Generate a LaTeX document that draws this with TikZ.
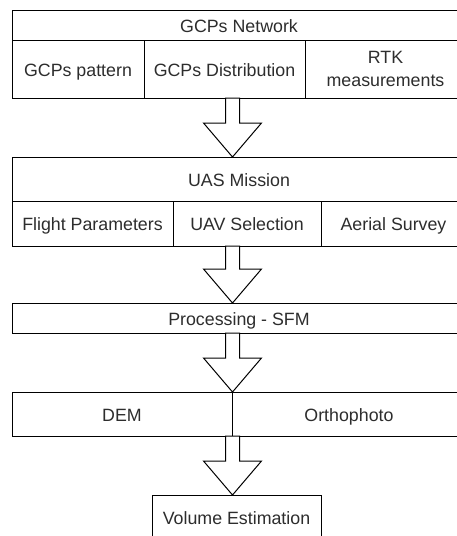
\documentclass[tikz,border=0pt]{standalone}
\usepackage{fontspec}
\setmainfont{Liberation Sans}
\usetikzlibrary{calc}
\definecolor{txtgray}{RGB}{45,45,45}
\begin{document}
\begin{tikzpicture}[x=1pt,y=-1pt,
  cellbase/.style={draw=black, line width=1pt, fill=white, rectangle, anchor=north west,
    inner sep=0pt, outer sep=0pt, font=\fontsize{17.8}{20}\selectfont, text=txtgray, align=center},
  cell/.style={cellbase, text height=14.6pt, text depth=0.4pt},
  fatarrow/.style={draw=black, line width=1pt, fill=white, line join=miter,
    to path={let \p1=(\tikztostart), \p2=(\tikztotarget) in
      (\x2-7pt,\y1) -- (\x2-7pt,\y2+34pt) -- (\x2-29pt,\y2+34pt) -- (\x2,\y2)
      -- (\x2+29pt,\y2+34pt) -- (\x2+7pt,\y2+34pt) -- (\x2+7pt,\y1)}}]
\useasboundingbox (0,0) rectangle (457,536);
\clip (0,0) rectangle (457,536);
\fill[white] (0,0) rectangle (457,536);
\coordinate (ax) at (232.5,0);
% GCPs Network
\node[cell, minimum width=454pt, minimum height=30pt] (gnet) at (12,10) {GCPs Network};
\node[cell, minimum width=132pt, minimum height=58pt] (gpat) at (12,40) {GCPs pattern};
\node[cell, minimum width=161pt, minimum height=58pt] (gdis) at (144,40) {GCPs Distribution};
\node[cellbase, minimum width=161pt, minimum height=58pt] (grtk) at (305,40) {RTK\\[3pt]measurements};
% UAS Mission
\node[cell, minimum width=454pt, minimum height=44pt] (uas) at (12,157) {UAS Mission};
\node[cell, minimum width=161pt, minimum height=45pt] (fp) at (12,201) {Flight Parameters};
\node[cell, minimum width=148pt, minimum height=45pt] (uav) at (173,201) {UAV Selection};
\node[cell, minimum width=145pt, minimum height=45pt] (aer) at (321,201) {Aerial Survey};
% Processing
\node[cell, minimum width=454pt, minimum height=30pt] (proc) at (12,303) {Processing - SFM};
% DEM / Orthophoto
\node[cell, minimum width=220pt, minimum height=44pt] (dem) at (12,392) {DEM};
\node[cell, minimum width=234pt, minimum height=44pt] (ortho) at (232,392) {Orthophoto};
% Volume
\node[cell, minimum width=169pt, minimum height=44pt] (vol) at (152,495) {Volume Estimation};
% arrows
\draw[fatarrow] (gdis.south -| ax) to (uas.north -| ax) -- cycle;
\draw[fatarrow] (uav.south -| ax) to (proc.north -| ax) -- cycle;
\draw[fatarrow] (proc.south -| ax) to (dem.north -| ax) -- cycle;
\draw[fatarrow] (dem.south -| ax) to (vol.north -| ax) -- cycle;
\end{tikzpicture}
\end{document}
